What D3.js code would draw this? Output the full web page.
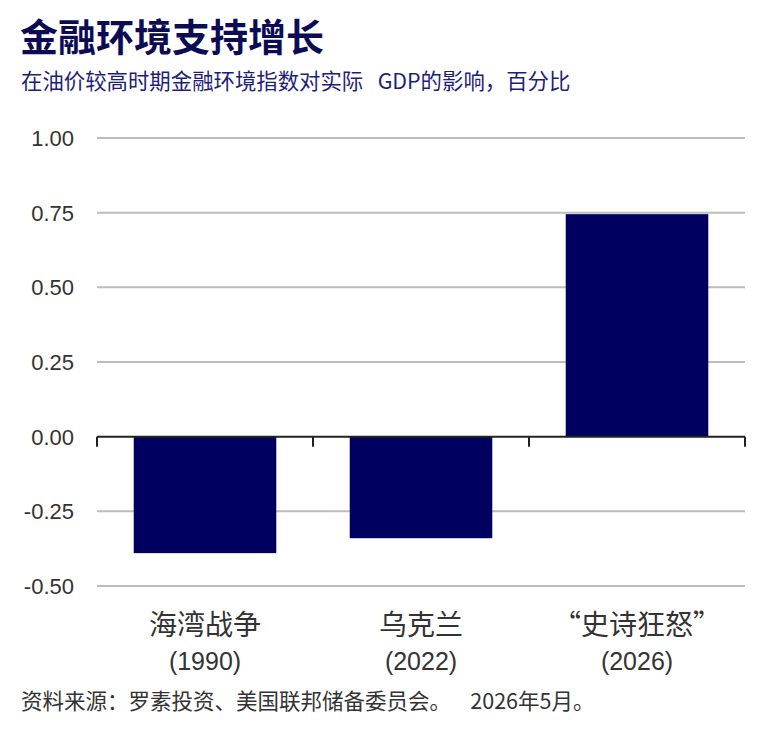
<!DOCTYPE html>
<html>
<head>
<meta charset="utf-8">
<script src="https://cdn.jsdelivr.net/npm/d3@7"></script>
<style>
    body { margin: 0; background: #fff; }
    svg { display: block; }
</style>
</head>
<body>
<div id="chart"></div>
<script>
const categories = ['海湾战争', '乌克兰', '“史诗狂怒”'];
const years = ['(1990)', '(2022)', '(2026)'];
const values = [-0.39, -0.34, 0.745];
const yTicks = [1.00, 0.75, 0.50, 0.25, 0.00, -0.25, -0.50];

const w = 773, h = 733;
const navy = '#000060';
const cjk = '"Noto Sans CJK SC", "Liberation Sans", sans-serif';
const latin = '"Liberation Sans", Arial, sans-serif';

const svg = d3.select('#chart')
    .append('svg')
    .attr('width', w)
    .attr('height', h)
    .style('font-family', cjk);

svg.append('rect')
    .attr('width', w)
    .attr('height', h)
    .style('fill', '#fff');

// title + subtitle
svg.append('text')
    .attr('x', 20)
    .attr('y', 51)
    .style('font-size', '38px')
    .style('font-weight', 'bold')
    .style('fill', '#0c0c55')
    .text('金融环境支持增长');

svg.append('text')
    .attr('x', 21)
    .attr('y', 89)
    .style('font-size', '21.4px')
    .style('fill', '#1e1e78')
    .text('在油价较高时期金融环境指数对实际\u00a0\u00a0\u00a0GDP的影响，百分比');

const x = d3.scaleBand()
    .domain(categories)
    .range([97, 745])
    .paddingInner(0.34)
    .paddingOuter(0.17);

const y = d3.scaleLinear()
    .domain([-0.5, 1.0])
    .range([586, 138]);

// gridlines
svg.append('g')
    .selectAll('line')
    .data(yTicks.filter(d => d !== 0))
    .join('line')
    .attr('x1', 97)
    .attr('x2', 745)
    .attr('y1', d => y(d))
    .attr('y2', d => y(d))
    .style('stroke', '#bdbdbd')
    .style('stroke-width', '2px');

// y labels
svg.append('g')
    .selectAll('text')
    .data(yTicks)
    .join('text')
    .attr('x', 74)
    .attr('y', d => y(d) + 8)
    .attr('text-anchor', 'end')
    .style('font-family', latin)
    .style('font-size', '22px')
    .style('fill', '#333')
    .text(d => d3.format('.2f')(d).replace('−', '-'));

// bars
svg.append('g')
    .selectAll('rect')
    .data(values)
    .join('rect')
    .attr('x', (d, i) => x(categories[i]))
    .attr('y', d => y(Math.max(0, d)))
    .attr('width', x.bandwidth())
    .attr('height', d => Math.abs(y(d) - y(0)))
    .style('fill', navy);

// zero axis with tick marks at category boundaries
const half = x.step() * x.paddingInner() / 2;
const bounds = categories.map(c => x(c) - half).concat([x(categories[categories.length - 1]) + x.bandwidth() + half]);

svg.append('line')
    .attr('x1', 97)
    .attr('x2', 745)
    .attr('y1', y(0))
    .attr('y2', y(0))
    .style('stroke', '#222')
    .style('stroke-width', '2px');

svg.append('g')
    .selectAll('line')
    .data(bounds)
    .join('line')
    .attr('x1', d => d)
    .attr('x2', d => d)
    .attr('y1', y(0))
    .attr('y2', y(0) + 10)
    .style('stroke', '#222')
    .style('stroke-width', '2px');

// category labels
const labels = svg.append('g')
    .selectAll('g')
    .data(categories)
    .join('g')
    .attr('transform', d => `translate(${x(d) + x.bandwidth() / 2},0)`);

labels.append('text')
    .attr('y', 635)
    .attr('text-anchor', 'middle')
    .style('font-size', '28px')
    .style('fill', '#333')
    .text(d => d);

labels.append('text')
    .attr('y', 670)
    .attr('text-anchor', 'middle')
    .style('font-family', latin)
    .style('font-size', '25px')
    .style('fill', '#333')
    .text((d, i) => years[i]);

// source
svg.append('text')
    .attr('x', 21)
    .attr('y', 709)
    .style('font-size', '21.5px')
    .style('fill', '#333')
    .text('资料来源：罗素投资、美国联邦储备委员会。\u00a0\u00a0\u00a0\u00a02026年5月。');
</script>
</body>
</html>
